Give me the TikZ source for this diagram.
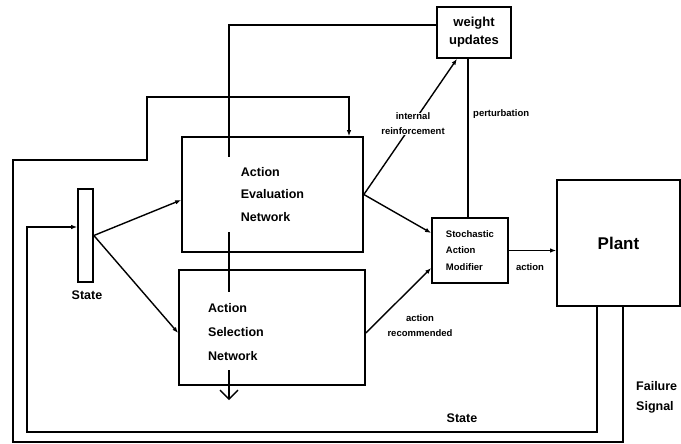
\documentclass[tikz,border=0pt]{standalone}
\usepackage{fontspec}
\setmainfont{Liberation Sans}
\usetikzlibrary{arrows.meta}
\begin{document}
\begin{tikzpicture}[x=1pt,y=-1pt,
  box/.style={draw, line width=1.7pt, inner sep=0pt},
  wire/.style={line width=1.4pt},
  arr/.style={wire, -{Latex[length=6pt,width=4.5pt]}},
  bigtxt/.style={font=\fontsize{12.5}{22.5}\selectfont\bfseries, align=left, inner sep=0pt},
  smalltxt/.style={font=\fontsize{9.5}{15}\selectfont\bfseries, inner sep=0pt, align=center},
]
\useasboundingbox (0,0) rectangle (681,444);
% boxes
\node[box, minimum width=74pt, minimum height=51pt, align=center,
      font=\fontsize{13}{18}\selectfont\bfseries] (wu) at (474,32.5) {weight\\updates};
\node[box, minimum width=181pt, minimum height=115pt, bigtxt] (aen) at (272.5,194.5) {Action\\Evaluation\\Network};
\node[box, minimum width=186pt, minimum height=115pt] (asn) at (272,327.5) {};
\node[bigtxt, anchor=west, font=\fontsize{12.5}{24}\selectfont\bfseries] (asnt) at (208,332) {Action\\Selection\\Network};
\node[box, minimum width=76pt, minimum height=65pt, align=left,
      font=\fontsize{9.5}{16.5}\selectfont\bfseries] (sam) at (470,250.5) {Stochastic\\Action\\Modifier};
\node[box, minimum width=123pt, minimum height=126pt,
      font=\fontsize{17}{20}\selectfont\bfseries] (plant) at (618.5,243) {Plant};
\node[box, minimum width=15pt, minimum height=93pt] (bar) at (85.5,235.5) {};
% waypoints
\coordinate (v0) at (229,25);
\coordinate (v1) at (229,157);
\coordinate (v2) at (229,232);
\coordinate (v3) at (229,292);
\coordinate (v4) at (229,370);
\coordinate (v5) at (229,400);
\coordinate (s1) at (27,432);
\coordinate (f1) at (13,442);
\coordinate (f2) at (147,160);
\coordinate (f3) at (349,97);
% connectors
\draw[wire] (wu.west |- v0) -- (v0) -- (v1);
\draw[wire] (v2) -- (v3);
\draw[wire, -{Straight Barb[length=9pt,width=18pt]}] (v4) -- (v5);
\draw[arr] (bar.east) -- ([yshift=-5.5pt]aen.west);
\draw[arr] (bar.east) -- ([yshift=-5.5pt]asn.west);
\draw[arr] (aen.east) -- ([xshift=-17pt]wu.south);
\draw[arr] (aen.east) -- ([yshift=17.5pt]sam.west);
\draw[arr] ([yshift=-5.5pt]asn.east) -- ([yshift=-17.5pt]sam.west);
\draw[wire] ([xshift=-6pt]wu.south) -- ([xshift=-2pt]sam.north);
\draw[arr] (sam.east) -- (sam.east -| plant.west);
\draw[arr] ([xshift=-21.5pt]plant.south) |- (s1) |- ([yshift=8.5pt]bar.west);
\draw[arr] ([xshift=4.5pt]plant.south) |- (f1) |- (f2) |- (f3) -- ([xshift=76.5pt]aen.north);
% labels
\node[smalltxt, fill=white] (lir) at (413,124) {internal\\reinforcement};
\node[smalltxt, anchor=west] (lpt) at (473,114) {perturbation};
\node[smalltxt] (lar) at (420,326) {action\\recommended};
\node[smalltxt] (lac) at (530,267) {action};
\node[bigtxt] (lst1) at (87,295) {State};
\node[bigtxt] (lst2) at (462,418) {State};
\node[bigtxt, anchor=west, font=\fontsize{12.5}{20}\selectfont\bfseries] (lfs) at (636,397) {Failure\\Signal};
\end{tikzpicture}
\end{document}
